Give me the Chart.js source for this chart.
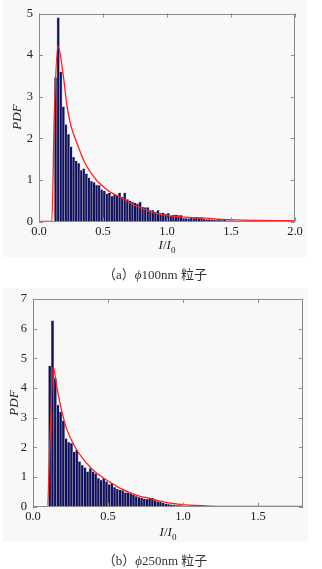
<!DOCTYPE html>
<html>
<head>
<meta charset="utf-8">
<script src="https://cdn.jsdelivr.net/npm/chart.js@4"></script>
<style>
  body { margin: 0; background: #fff; width: 322px; height: 569px; position: relative; overflow: hidden; }
  .panel { position: absolute; background: #f8f8f8; }
  canvas { position: absolute; left: 0; }
  .lbl { position: absolute; font-family: "Liberation Serif", serif; color: #222; white-space: nowrap; }
  .ylab { font-style: italic; font-size: 13px; transform: translate(-50%, -50%) rotate(-90deg); }
  .xlab { font-size: 13px; transform: translate(-50%, -50%); }
  .xlab sub { font-size: 9px; }
  .cap { font-family: "Liberation Serif", "Noto Sans CJK SC", serif; font-size: 13px; color: #333; transform: translate(-50%, -50%); }
</style>
</head>
<body>
<div class="panel" style="left:3px;top:0;width:304px;height:257px"></div>
<div class="panel" style="left:3px;top:288px;width:305px;height:254px"></div>
<canvas id="chartA" width="322" height="260" style="top:0"></canvas>
<canvas id="chartB" width="322" height="260" style="top:285px"></canvas>

<div class="lbl ylab" style="left:17px;top:117px">PDF</div>
<div class="lbl xlab" style="left:167px;top:246px"><i>I</i>/<i>I</i><sub>0</sub></div>
<div class="lbl cap" style="left:155px;top:273px">（a）<i>ϕ</i>100nm 粒子</div>

<div class="lbl ylab" style="left:14px;top:403px">PDF</div>
<div class="lbl xlab" style="left:168px;top:533px"><i>I</i>/<i>I</i><sub>0</sub></div>
<div class="lbl cap" style="left:155px;top:559px">（b）<i>ϕ</i>250nm 粒子</div>

<script>
// (a) phi 100nm particles: histogram bins (centres) and heights
const binsA = [0.13, 0.15, 0.17, 0.19, 0.21, 0.23, 0.25, 0.27, 0.29, 0.31,
  0.33, 0.35, 0.37, 0.39, 0.41, 0.43, 0.45, 0.47, 0.49, 0.51,
  0.53, 0.55, 0.57, 0.59, 0.61, 0.63, 0.65, 0.67, 0.69, 0.71,
  0.73, 0.75, 0.77, 0.79, 0.81, 0.83, 0.85, 0.87, 0.89, 0.91,
  0.93, 0.95, 0.97, 0.99, 1.01, 1.03, 1.05, 1.07, 1.09, 1.11,
  1.13, 1.15, 1.17, 1.19, 1.21, 1.23, 1.25, 1.27, 1.29, 1.31,
  1.33, 1.35, 1.37, 1.39, 1.41, 1.43, 1.45, 1.47, 1.49, 1.51,
  1.53, 1.55, 1.57, 1.59, 1.61, 1.63, 1.65];
const pdfA = [3.46, 4.9, 3.6, 2.76, 2.33, 2.1, 1.8, 1.55, 1.46, 1.4,
  1.23, 1.27, 1.15, 1.05, 0.97, 0.94, 0.88, 0.87, 0.77, 0.74,
  0.67, 0.69, 0.61, 0.65, 0.62, 0.69, 0.59, 0.69, 0.53, 0.5,
  0.47, 0.45, 0.43, 0.47, 0.35, 0.34, 0.34, 0.27, 0.27, 0.23,
  0.27, 0.2, 0.21, 0.18, 0.2, 0.13, 0.16, 0.16, 0.15, 0.15,
  0.08, 0.08, 0.07, 0.09, 0.08, 0.1, 0.08, 0.09, 0.06, 0.05,
  0.05, 0.04, 0.04, 0.03, 0.04, 0.03, 0.04, 0.02, 0.02, 0.02,
  0.01, 0.01, 0, 0.02, 0.02, 0.02, 0.01];
// fitted curve (red)
const fitXA = [0, 0.1, 0.12, 0.148, 0.19, 0.22, 0.25, 0.3, 0.36, 0.45, 0.48, 0.55, 0.63, 0.71, 0.79, 0.87, 0.95, 1.04, 1.17, 1.3, 1.43, 1.58, 1.7, 2.0];
const fitYA = [0, 0, 2.6, 4.22, 3.5, 2.75, 2.3, 1.85, 1.4, 0.99, 0.9, 0.72, 0.59, 0.45, 0.33, 0.24, 0.17, 0.13, 0.1, 0.08, 0.05, 0.035, 0.025, 0.02];
const xTicksA = [0, 0.5, 1.0, 1.5, 2.0];
const yTicksA = [0, 1, 2, 3, 4, 5];

// (b) phi 250nm particles
const binsB = [0.112, 0.130, 0.148, 0.166, 0.184, 0.202, 0.220, 0.238, 0.256, 0.274,
  0.292, 0.310, 0.328, 0.346, 0.364, 0.382, 0.400, 0.418, 0.436, 0.454,
  0.472, 0.490, 0.508, 0.526, 0.544, 0.562, 0.580, 0.598, 0.616, 0.634,
  0.652, 0.670, 0.688, 0.706, 0.724, 0.742, 0.760, 0.778, 0.796, 0.814,
  0.832, 0.850, 0.868, 0.886, 0.904, 0.922, 0.940, 0.958, 0.976, 0.994,
  1.012, 1.030, 1.048, 1.066, 1.084, 1.102, 1.120, 1.138, 1.156, 1.174, 1.192];
const pdfB = [4.75, 6.27, 4.33, 3.43, 3.2, 2.9, 2.3, 2.17, 2.14, 1.85,
  1.91, 1.52, 1.4, 1.32, 1.18, 1.29, 1.18, 1.12, 0.96, 0.9,
  0.96, 0.85, 0.75, 0.79, 0.66, 0.6, 0.57, 0.55, 0.48, 0.48,
  0.45, 0.4, 0.35, 0.32, 0.3, 0.27, 0.26, 0.27, 0.3, 0.22,
  0.18, 0.16, 0.13, 0.1, 0.08, 0.07, 0.06, 0.05, 0.05, 0.04,
  0.03, 0.03, 0.02, 0.02, 0.02, 0.01, 0.01, 0.01, 0.01, 0.01, 0.01];
const fitXB = [0, 0.095, 0.115, 0.134, 0.16, 0.19, 0.223, 0.279, 0.36, 0.413, 0.47, 0.525, 0.59, 0.648, 0.71, 0.78, 0.84, 0.893, 0.95, 1.0, 1.08, 1.18, 1.3, 1.5, 1.8];
const fitYB = [0, 0, 2.5, 4.72, 4.0, 3.26, 2.64, 2.02, 1.45, 1.18, 0.97, 0.79, 0.6, 0.47, 0.36, 0.28, 0.2, 0.14, 0.1, 0.07, 0.04, 0.02, 0.012, 0.01, 0.01];
const xTicksB = [0, 0.5, 1.0, 1.5];
const yTicksB = [0, 1, 2, 3, 4, 5, 6, 7];

const NAVY = '#10105c';
const RED = '#ff2020';
const FRAME = '#8c8c8c';
const tickFont = { family: 'Liberation Serif', size: 12.5 };

// MATLAB-like box with inward ticks on all four sides
const boxPlugin = {
  id: 'box',
  afterDraw(chart) {
    const { ctx, chartArea: a, scales } = chart;
    ctx.save();
    ctx.strokeStyle = FRAME;
    ctx.lineWidth = 1;
    ctx.strokeRect(Math.round(a.left) + 0.5, Math.round(a.top) + 0.5,
      Math.round(a.right - a.left) - 1, Math.round(a.bottom - a.top) - 1);
    ctx.beginPath();
    scales.x.ticks.forEach(t => {
      const px = Math.round(scales.x.getPixelForValue(t.value)) + 0.5;
      ctx.moveTo(px, a.bottom); ctx.lineTo(px, a.bottom - 4);
      ctx.moveTo(px, a.top); ctx.lineTo(px, a.top + 4);
    });
    scales.y.ticks.forEach(t => {
      const py = Math.round(scales.y.getPixelForValue(t.value)) + 0.5;
      ctx.moveTo(a.left, py); ctx.lineTo(a.left + 4, py);
      ctx.moveTo(a.right, py); ctx.lineTo(a.right - 4, py);
    });
    ctx.stroke();
    ctx.restore();
  }
};

function makeChart(id, bins, pdf, fitX, fitY, xTicks, yTicks, xMax, yMax, area) {
  const bars = bins.map((b, i) => ({ x: b, y: pdf[i] }));
  const fit = fitX.map((v, i) => ({ x: v, y: fitY[i] }));
  return new Chart(document.getElementById(id), {
    type: 'bar',
    data: {
      datasets: [
        {
          type: 'line',
          data: fit,
          borderColor: RED,
          borderWidth: 1.3,
          pointRadius: 0,
          cubicInterpolationMode: 'monotone',
          order: 0
        },
        {
          type: 'bar',
          data: bars,
          backgroundColor: NAVY,
          borderColor: '#a8a8b8',
          borderWidth: 0.6,
          barPercentage: 1,
          categoryPercentage: 1,
          order: 1
        }
      ]
    },
    options: {
      responsive: false,
      animation: false,
      layout: { padding: { top: area.top, right: area.right, left: 0, bottom: 0 } },
      plugins: { legend: { display: false }, tooltip: { enabled: false } },
      scales: {
        x: {
          type: 'linear',
          min: 0,
          max: xMax,
          offset: false,
          grid: { display: false, drawTicks: false },
          border: { display: false },
          afterBuildTicks: s => { s.ticks = xTicks.map(v => ({ value: v })); },
          afterFit: s => { s.height = area.xHeight; },
          ticks: {
            font: tickFont,
            color: '#222',
            padding: 3,
            maxRotation: 0,
            callback: v => v.toFixed(1)
          }
        },
        y: {
          min: 0,
          max: yMax,
          grid: { display: false, drawTicks: false },
          border: { display: false },
          afterBuildTicks: s => { s.ticks = yTicks.map(v => ({ value: v })); },
          afterFit: s => { s.width = area.left; },
          ticks: { font: tickFont, color: '#222', padding: 6 }
        }
      }
    },
    plugins: [boxPlugin]
  });
}

makeChart('chartA', binsA, pdfA, fitXA, fitYA, xTicksA, yTicksA, 2.0, 5,
  { top: 12, right: 27, left: 39, xHeight: 38.5 });
makeChart('chartB', binsB, pdfB, fitXB, fitYB, xTicksB, yTicksB, 1.8, 7,
  { top: 14, right: 19, left: 33, xHeight: 38.3 });
</script>
</body>
</html>
